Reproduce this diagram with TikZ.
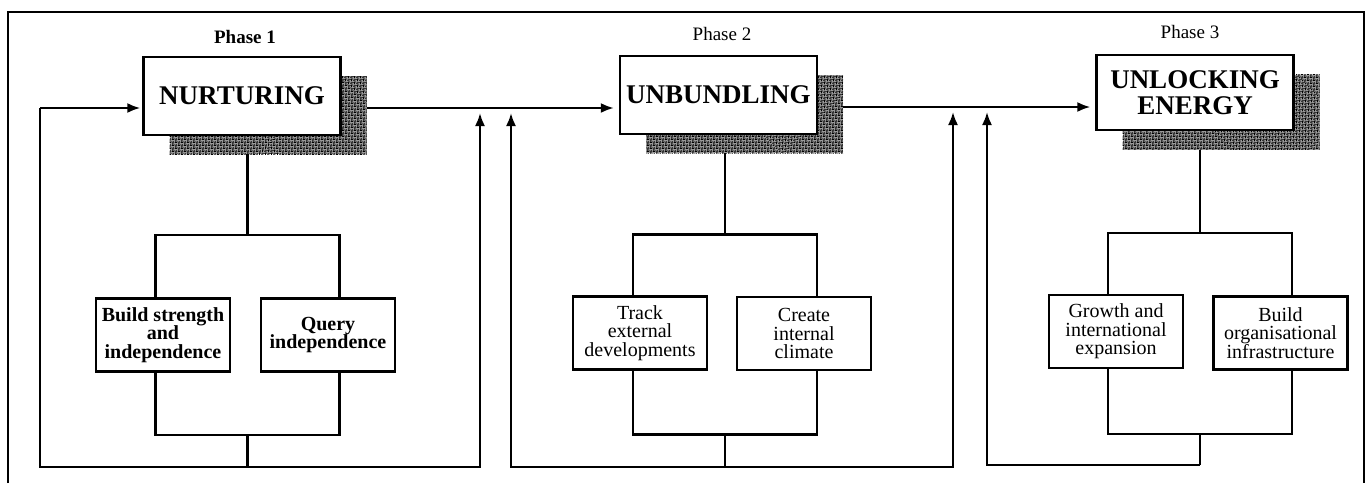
\documentclass[tikz,border=0pt]{standalone}
\usepackage{fontspec}
\setmainfont{Liberation Serif}
\usetikzlibrary{arrows.meta,patterns.meta}

\tikzdeclarepattern{name=finechecker, type=uncolored,
    bottom left={(0pt,0pt)}, top right={(4pt,4pt)}, tile size={(4pt,4pt)},
    tile transformation={rotate=45},
    code={\fill (0pt,0pt) rectangle (2pt,2pt); \fill (2pt,2pt) rectangle (4pt,4pt);}}

\tikzset{
    phaselabel/.style={font=\fontsize{19}{20}\selectfont},
    stagebox/.style={draw, line width=2.4pt, fill=white, align=center, inner sep=0pt,
        minimum width=197pt, minimum height=78pt, font=\fontsize{27}{26}\selectfont\bfseries},
    stageshadow/.style={fill=black!40, postaction={pattern=finechecker}, inner sep=0pt,
        minimum width=197pt, minimum height=78pt},
    bracket/.style={draw, line width=2.2pt, inner sep=0pt, minimum width=184pt, minimum height=200pt},
    taskbox/.style={draw, line width=2.2pt, fill=white, align=center, inner sep=0pt,
        minimum width=134pt, minimum height=73pt, font=\fontsize{20}{18.5}\selectfont},
    boldtask/.style={taskbox, font=\fontsize{20}{18.5}\selectfont\bfseries},
    link/.style={line width=2.2pt},
    arr/.style={link, -{Latex[length=13pt,width=10pt]}},
}

\begin{document}
\begin{tikzpicture}[x=1pt, y=-1pt]
    \useasboundingbox (0,0) rectangle (1368,483);
    \draw[link] (8,483) -- (8,12) -- (1364,12) -- (1364,483); % frame, cut at the bottom

    % phase 1
    \node[phaselabel, font=\fontsize{19}{20}\selectfont\bfseries] (ph1) at (245,37) {Phase 1};
    \node[stageshadow] (nurtsh) at (268,115) {};
    \node[stagebox] (nurt) at (242,96) {NURTURING};
    \node[bracket] (br1) at (247.5,335) {};
    \node[boldtask] (build) at (163,335) {Build strength\\and\\independence};
    \node[boldtask] (query) at (328,335) {Query\\independence};

    % phase 2
    \node[phaselabel] (ph2) at (722,34) {Phase 2};
    \node[stageshadow] (unbush) at (744.5,114) {};
    \node[stagebox] (unbu) at (718.5,95) {UNBUNDLING};
    \node[bracket] (br2) at (725,334.5) {};
    \node[taskbox] (track) at (640,333) {Track\\external\\developments};
    \node[taskbox] (climate) at (804,333.5) {Create\\internal\\climate};

    % phase 3
    \node[phaselabel] (ph3) at (1190,32) {Phase 3};
    \node[stageshadow, minimum height=75pt] (unlosh) at (1221,112) {};
    \node[stagebox, minimum height=75pt] (unlo) at (1195,92.5) {UNLOCKING\\ENERGY};
    \node[bracket, minimum height=201pt] (br3) at (1200,333.5) {};
    \node[taskbox] (growth) at (1116,331.5) {Growth and\\international\\expansion};
    \node[taskbox] (infra) at (1280.5,333) {Build\\organisational\\infrastructure};

    % main line
    \coordinate (in1) at (40,108);
    \coordinate (up1) at (480,108);
    \coordinate (up2) at (511,108);
    \coordinate (up3) at (953,107);
    \coordinate (up4) at (987,107);
    \draw[arr, shorten >=2pt] (in1) -- (in1 -| nurt.west);
    \draw[arr, shorten >=5pt] (nurtsh.east |- in1) -- (in1 -| unbu.west);
    \draw[arr, shorten >=5pt] (unbush.east |- up3) -- (up3 -| unlo.west);

    % stage to bracket
    \draw[link] (nurtsh.south -| br1.north) -- (br1.north);
    \draw[link] (unbush.south -| br2.north) -- (br2.north);
    \draw[link] (unlosh.south -| br3.north) -- (br3.north);

    % loops back
    \coordinate (hub1) at (br1.south |- 0,467);
    \coordinate (hub2) at (br2.south |- 0,467);
    \coordinate (hub3) at (br3.south |- 0,465);
    \draw[link] (br1.south) -- (hub1) -| (in1);
    \draw[arr, shorten >=5pt] (hub1) -| (up1);
    \draw[link] (br2.south) -- (hub2);
    \draw[arr, shorten >=5pt] (hub2) -| (up2);
    \draw[arr, shorten >=5pt] (hub2) -| (up3);
    \draw[link] (br3.south) -- (hub3);
    \draw[arr, shorten >=5pt] (hub3) -| (up4);
\end{tikzpicture}
\end{document}
